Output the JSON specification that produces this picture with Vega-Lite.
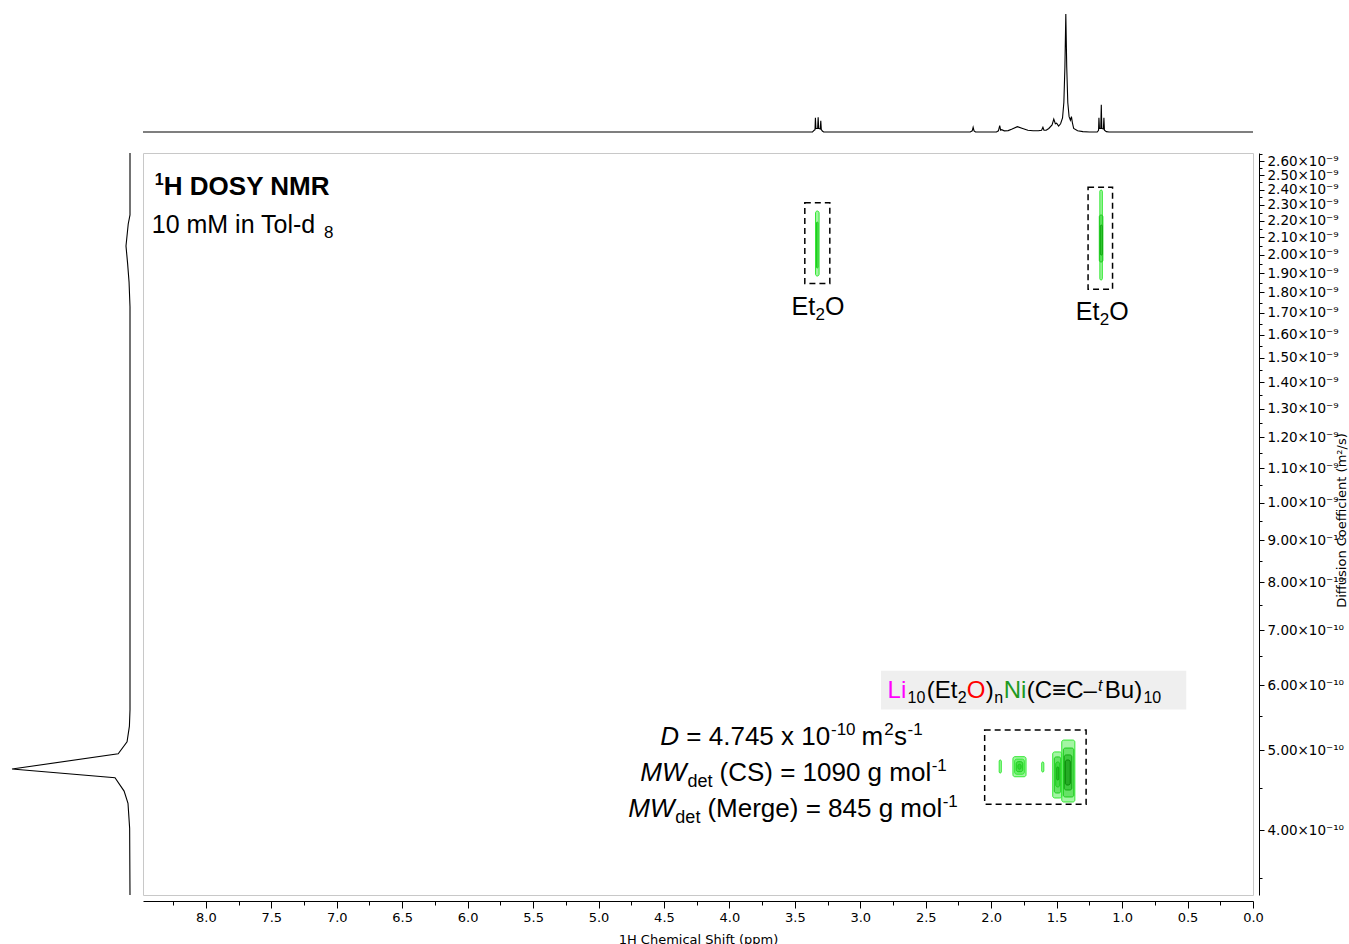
{
  "$schema": "https://vega.github.io/schema/vega-lite/v6.json",
  "padding": 0,
  "background": "white",
  "config": {
    "view": {"stroke": null},
    "axis": {"labelFont": "DejaVu Sans", "titleFont": "DejaVu Sans", "labelColor": "#000", "titleColor": "#000", "domainColor": "#000", "tickColor": "#000", "titleFontWeight": "normal", "grid": false},
    "text": {"font": "Liberation Sans, Arial, DejaVu Sans, sans-serif", "color": "#000"}
  },
  "columns": 2,
  "bounds": "flush",
  "spacing": {"row": 21, "column": 13},
  "concat": [
    {
      "width": 130, "height": 132,
      "data": {"values": [{"t": ""}]},
      "mark": {"type": "text"},
      "encoding": {"text": {"field": "t"}}
    },
    {
      "width": 1110, "height": 132,
      "data": {"values": [
        {"ppm": 8.48, "I": 0}, {"ppm": 3.365, "I": 0}, {"ppm": 3.352, "I": 1.5}, {"ppm": 3.346, "I": 2},
        {"ppm": 3.343, "I": 12}, {"ppm": 3.339, "I": 3}, {"ppm": 3.326, "I": 3}, {"ppm": 3.322, "I": 12.5},
        {"ppm": 3.318, "I": 3}, {"ppm": 3.306, "I": 2.5}, {"ppm": 3.302, "I": 9.5}, {"ppm": 3.298, "I": 2},
        {"ppm": 3.29, "I": 0.8}, {"ppm": 3.28, "I": 0}, {"ppm": 2.16, "I": 0}, {"ppm": 2.145, "I": 1},
        {"ppm": 2.138, "I": 4}, {"ppm": 2.131, "I": 1}, {"ppm": 2.12, "I": 0}, {"ppm": 1.96, "I": 0},
        {"ppm": 1.945, "I": 1}, {"ppm": 1.935, "I": 5.4}, {"ppm": 1.928, "I": 1.5}, {"ppm": 1.92, "I": 2},
        {"ppm": 1.9, "I": 1}, {"ppm": 1.87, "I": 1.2}, {"ppm": 1.84, "I": 2.5}, {"ppm": 1.8, "I": 4.5},
        {"ppm": 1.76, "I": 3}, {"ppm": 1.72, "I": 1.5}, {"ppm": 1.68, "I": 1}, {"ppm": 1.64, "I": 1},
        {"ppm": 1.615, "I": 1.5}, {"ppm": 1.605, "I": 4}, {"ppm": 1.597, "I": 1.5}, {"ppm": 1.58, "I": 1.5},
        {"ppm": 1.56, "I": 3}, {"ppm": 1.535, "I": 6}, {"ppm": 1.522, "I": 11}, {"ppm": 1.51, "I": 7},
        {"ppm": 1.5, "I": 7.5}, {"ppm": 1.485, "I": 5}, {"ppm": 1.47, "I": 7}, {"ppm": 1.455, "I": 12},
        {"ppm": 1.445, "I": 25}, {"ppm": 1.437, "I": 55}, {"ppm": 1.43, "I": 100}, {"ppm": 1.423, "I": 55},
        {"ppm": 1.415, "I": 25}, {"ppm": 1.405, "I": 13}, {"ppm": 1.395, "I": 10}, {"ppm": 1.387, "I": 13},
        {"ppm": 1.38, "I": 8}, {"ppm": 1.37, "I": 3}, {"ppm": 1.34, "I": 1}, {"ppm": 1.3, "I": 0.3},
        {"ppm": 1.25, "I": 0}, {"ppm": 1.19, "I": 0}, {"ppm": 1.18, "I": 1.5}, {"ppm": 1.177, "I": 12},
        {"ppm": 1.173, "I": 3}, {"ppm": 1.163, "I": 3}, {"ppm": 1.159, "I": 23}, {"ppm": 1.155, "I": 3},
        {"ppm": 1.143, "I": 2.5}, {"ppm": 1.139, "I": 12}, {"ppm": 1.135, "I": 1.5}, {"ppm": 1.12, "I": 0.3},
        {"ppm": 1.1, "I": 0}, {"ppm": 0, "I": 0}
      ]},
      "mark": {"type": "line", "color": "#000", "strokeWidth": 1.1},
      "encoding": {
        "x": {"field": "ppm", "type": "quantitative", "scale": {"domain": [0, 8.48], "reverse": true, "nice": false, "zero": false}, "axis": null},
        "y": {"field": "I", "type": "quantitative", "scale": {"domain": [0, 111.86], "nice": false}, "axis": null}
      }
    },
    {
      "width": 130, "height": 742,
      "data": {"values": [
        {"D": 2.659e-9, "I": 0}, {"D": 2.236e-9, "I": 0}, {"D": 2.18e-9, "I": 1.5}, {"D": 2.05e-9, "I": 3.4},
        {"D": 1.95e-9, "I": 2}, {"D": 1.853e-9, "I": 0.8}, {"D": 1.729e-9, "I": 0}, {"D": 5.6e-10, "I": 0},
        {"D": 5.35e-10, "I": 0.5}, {"D": 5.12e-10, "I": 2.5}, {"D": 4.95e-10, "I": 10}, {"D": 4.745e-10, "I": 100},
        {"D": 4.63e-10, "I": 12.7}, {"D": 4.46e-10, "I": 5}, {"D": 4.31e-10, "I": 1.7}, {"D": 4.02e-10, "I": 0.3},
        {"D": 3.335e-10, "I": 0}
      ]},
      "mark": {"type": "line", "color": "#000", "strokeWidth": 1.1},
      "encoding": {
        "y": {"field": "D", "type": "quantitative", "scale": {"type": "log", "domain": [3.335e-10, 2.659e-9], "nice": false}, "axis": null},
        "x": {"field": "I", "type": "quantitative", "scale": {"domain": [0, 110.17], "reverse": true, "nice": false}, "axis": null},
        "order": {"field": "D", "type": "quantitative"}
      }
    },
    {
      "width": 1110, "height": 742,
      "view": {"stroke": "#c8c8c8"},
      "resolve": {"scale": {"color": "independent", "fill": "independent", "stroke": "independent"}},
      "encoding": {
        "x": {"field": "ppm", "type": "quantitative",
          "scale": {"domain": [0, 8.48], "reverse": true, "nice": false, "zero": false},
          "axis": {"title": "1H Chemical Shift (ppm)", "orient": "bottom", "offset": 6,
            "values": [0,0.25,0.5,0.75,1,1.25,1.5,1.75,2,2.25,2.5,2.75,3,3.25,3.5,3.75,4,4.25,4.5,4.75,5,5.25,5.5,5.75,6,6.25,6.5,6.75,7,7.25,7.5,7.75,8,8.25],
            "labelExpr": "round(datum.value*4) % 2 == 0 ? format(datum.value, '.1f') : ''",
            "tickSize": {"condition": {"test": "round(datum.value*4) % 2 == 0", "value": 7}, "value": 4},
            "labelFontSize": 13, "titleFontSize": 13, "labelPadding": 3, "titlePadding": 9,
            "labelOverlap": false, "labelFlush": false}},
        "y": {"field": "D", "type": "quantitative",
          "scale": {"type": "log", "domain": [3.335e-10, 2.659e-9], "nice": false},
          "axis": {"title": "Diffusion Coefficient (m²/s)", "orient": "right", "offset": 6,
            "values": [3.5e-10,4e-10,4.5e-10,5e-10,5.5e-10,6e-10,6.5e-10,7e-10,7.5e-10,8e-10,8.5e-10,9e-10,9.5e-10,1e-9,1.05e-9,1.1e-9,1.15e-9,1.2e-9,1.25e-9,1.3e-9,1.35e-9,1.4e-9,1.45e-9,1.5e-9,1.55e-9,1.6e-9,1.65e-9,1.7e-9,1.75e-9,1.8e-9,1.85e-9,1.9e-9,1.95e-9,2e-9,2.05e-9,2.1e-9,2.15e-9,2.2e-9,2.25e-9,2.3e-9,2.35e-9,2.4e-9,2.45e-9,2.5e-9,2.55e-9,2.6e-9,2.65e-9],
            "labelExpr": "round(datum.value*1e11) % 10 != 0 ? '' : (datum.value > 9.95e-10 ? format(datum.value*1e9, '.2f') + '×10⁻⁹' : format(datum.value*1e10, '.2f') + '×10⁻¹⁰')",
            "tickSize": {"condition": {"test": "round(datum.value*1e11) % 10 == 0", "value": 5}, "value": 3},
            "labelFontSize": 13.5, "titleFontSize": 13, "labelPadding": 3,
            "labelOverlap": false, "labelFlush": false,
            "titleAngle": 270, "titleX": 82, "titleY": 367, "titleAlign": "center", "titleBaseline": "middle"}}
      },
      "layer": [
        {
          "data": {"values": [{"ppm": 2.842, "ppm2": 0.51, "D": 6.245e-10, "D2": 5.603e-10}]},
          "mark": {"type": "rect", "fill": "#efefef"},
          "encoding": {"x2": {"field": "ppm2"}, "y2": {"field": "D2"}}
        },
        {
          "data": {"values": [
            {"ppm": 3.424, "ppm2": 3.233, "D": 2.313e-9, "D2": 1.846e-9},
            {"ppm": 1.26, "ppm2": 1.073, "D": 2.416e-9, "D2": 1.816e-9},
            {"ppm": 2.05, "ppm2": 1.275, "D": 5.29e-10, "D2": 4.3e-10}
          ]},
          "mark": {"type": "rect", "filled": false, "stroke": "#000", "strokeWidth": 1.5, "strokeDash": [6, 4]},
          "encoding": {"x2": {"field": "ppm2"}, "y2": {"field": "D2"}}
        },
        {
          "data": {"values": [
            {"ppm": 3.342, "ppm2": 3.315, "D": 2.2605e-9, "D2": 1.8846e-9, "lvl": 1},
            {"ppm": 3.335, "ppm2": 3.323, "D": 2.1917e-9, "D2": 1.9273e-9, "lvl": 2},
            {"ppm": 1.17, "ppm2": 1.151, "D": 2.3974e-9, "D2": 1.8637e-9, "lvl": 1},
            {"ppm": 1.174, "ppm2": 1.147, "D": 2.2354e-9, "D2": 1.9599e-9, "lvl": 2},
            {"ppm": 1.166, "ppm2": 1.151, "D": 2.1732e-9, "D2": 1.9986e-9, "lvl": 3},
            {"ppm": 1.939, "ppm2": 1.923, "D": 4.8658e-10, "D2": 4.6915e-10, "lvl": 1},
            {"ppm": 1.834, "ppm2": 1.734, "D": 4.911e-10, "D2": 4.643e-10, "lvl": 1},
            {"ppm": 1.821, "ppm2": 1.747, "D": 4.877e-10, "D2": 4.676e-10, "lvl": 1},
            {"ppm": 1.809, "ppm2": 1.759, "D": 4.843e-10, "D2": 4.709e-10, "lvl": 2},
            {"ppm": 1.796, "ppm2": 1.772, "D": 4.809e-10, "D2": 4.742e-10, "lvl": 2},
            {"ppm": 1.614, "ppm2": 1.598, "D": 4.8387e-10, "D2": 4.7045e-10, "lvl": 1},
            {"ppm": 1.53, "ppm2": 1.461, "D": 4.9768e-10, "D2": 4.375e-10, "lvl": 1},
            {"ppm": 1.518, "ppm2": 1.468, "D": 4.9076e-10, "D2": 4.4366e-10, "lvl": 2},
            {"ppm": 1.507, "ppm2": 1.476, "D": 4.8387e-10, "D2": 4.5117e-10, "lvl": 2},
            {"ppm": 1.499, "ppm2": 1.484, "D": 4.7716e-10, "D2": 4.6005e-10, "lvl": 3},
            {"ppm": 1.461, "ppm2": 1.361, "D": 5.1447e-10, "D2": 4.3263e-10, "lvl": 1},
            {"ppm": 1.449, "ppm2": 1.369, "D": 5.0309e-10, "D2": 4.3873e-10, "lvl": 2},
            {"ppm": 1.442, "ppm2": 1.384, "D": 4.9352e-10, "D2": 4.4739e-10, "lvl": 3},
            {"ppm": 1.434, "ppm2": 1.396, "D": 4.8658e-10, "D2": 4.5368e-10, "lvl": 4}
          ]},
          "mark": {"type": "rect", "strokeWidth": 1, "cornerRadius": 2, "fillOpacity": 0.45},
          "encoding": {
            "x2": {"field": "ppm2"}, "y2": {"field": "D2"},
            "fill": {"field": "lvl", "type": "ordinal", "scale": {"domain": [1, 2, 3, 4], "range": ["#33e833", "#1ccc1c", "#10aa10", "#088808"]}, "legend": null},
            "stroke": {"field": "lvl", "type": "ordinal", "scale": {"domain": [1, 2, 3, 4], "range": ["#33e833", "#1ccc1c", "#10aa10", "#088808"]}, "legend": null}
          }
        },
        {
          "data": {"values": [{"t": "H DOSY NMR", "ppm": 8.321, "D": 2.364e-9}]},
          "mark": {"type": "text", "align": "left", "baseline": "alphabetic", "fontSize": 26, "fontWeight": "bold"},
          "encoding": {"text": {"field": "t"}}
        },
        {
          "data": {"values": [{"t": "1", "ppm": 8.39, "D": 2.364e-9}]},
          "mark": {"type": "text", "align": "left", "baseline": "alphabetic", "fontSize": 16, "fontWeight": "bold", "dy": -10},
          "encoding": {"text": {"field": "t"}}
        },
        {
          "data": {"values": [
            {"t": "10 mM in Tol-d", "ppm": 8.413, "D": 2.1255e-9},
            {"t": "Et", "ppm": 3.526, "D": 1.6897e-9},
            {"t": "O", "ppm": 3.27, "D": 1.6897e-9},
            {"t": "Et", "ppm": 1.354, "D": 1.6662e-9},
            {"t": "O", "ppm": 1.098, "D": 1.6662e-9}
          ]},
          "mark": {"type": "text", "align": "left", "baseline": "alphabetic", "fontSize": 25},
          "encoding": {"text": {"field": "t"}}
        },
        {
          "data": {"values": [
            {"t": "Li", "ppm": 2.792, "D": 5.787e-10, "el": "Li"},
            {"t": "(Et", "ppm": 2.493, "D": 5.787e-10, "el": "x"},
            {"t": "O", "ppm": 2.187, "D": 5.787e-10, "el": "O"},
            {"t": ")", "ppm": 2.042, "D": 5.787e-10, "el": "x"},
            {"t": "Ni", "ppm": 1.904, "D": 5.787e-10, "el": "Ni"},
            {"t": "(C≡C–", "ppm": 1.728, "D": 5.787e-10, "el": "x"},
            {"t": "Bu)", "ppm": 1.132, "D": 5.787e-10, "el": "x"}
          ]},
          "mark": {"type": "text", "align": "left", "baseline": "alphabetic", "fontSize": 24},
          "encoding": {
            "text": {"field": "t"},
            "color": {"field": "el", "type": "nominal", "scale": {"domain": ["Li", "O", "Ni", "x"], "range": ["#ff00ff", "#ff0000", "#1f9a1f", "#000000"]}, "legend": null}
          }
        },
        {
          "data": {"values": [
            {"t": "8", "ppm": 7.098, "D": 2.1255e-9},
            {"t": "2", "ppm": 3.342, "D": 1.6897e-9},
            {"t": "2", "ppm": 1.17, "D": 1.6662e-9}
          ]},
          "mark": {"type": "text", "align": "left", "baseline": "alphabetic", "fontSize": 17, "dy": 5},
          "encoding": {"text": {"field": "t"}}
        },
        {
          "data": {"values": [
            {"t": "10", "ppm": 2.639, "D": 5.787e-10},
            {"t": "2", "ppm": 2.256, "D": 5.787e-10},
            {"t": "n", "ppm": 1.977, "D": 5.787e-10},
            {"t": "10", "ppm": 0.837, "D": 5.787e-10}
          ]},
          "mark": {"type": "text", "align": "left", "baseline": "alphabetic", "fontSize": 16, "dy": 5},
          "encoding": {"text": {"field": "t"}}
        },
        {
          "data": {"values": [{"t": "t", "ppm": 1.185, "D": 5.787e-10}]},
          "mark": {"type": "text", "align": "left", "baseline": "alphabetic", "fontSize": 16, "fontStyle": "italic", "dy": -7},
          "encoding": {"text": {"field": "t"}}
        },
        {
          "data": {"values": [
            {"t": "D", "ppm": 4.528, "D": 5.074e-10},
            {"t": "MW", "ppm": 4.681, "D": 4.5875e-10},
            {"t": "MW", "ppm": 4.772, "D": 4.148e-10}
          ]},
          "mark": {"type": "text", "align": "left", "baseline": "alphabetic", "fontSize": 26, "fontStyle": "italic"},
          "encoding": {"text": {"field": "t"}}
        },
        {
          "data": {"values": [
            {"t": "det", "ppm": 4.321, "D": 4.5875e-10},
            {"t": "det", "ppm": 4.413, "D": 4.148e-10}
          ]},
          "mark": {"type": "text", "align": "left", "baseline": "alphabetic", "fontSize": 18, "dy": 6},
          "encoding": {"text": {"field": "t"}}
        },
        {
          "data": {"values": [
            {"t": "= 4.745 x 10", "ppm": 4.329, "D": 5.074e-10},
            {"t": "m", "ppm": 2.99, "D": 5.074e-10},
            {"t": "s", "ppm": 2.742, "D": 5.074e-10},
            {"t": "(CS) = 1090 g mol", "ppm": 4.076, "D": 4.5875e-10},
            {"t": "(Merge) = 845 g mol", "ppm": 4.168, "D": 4.148e-10}
          ]},
          "mark": {"type": "text", "align": "left", "baseline": "alphabetic", "fontSize": 26},
          "encoding": {"text": {"field": "t"}}
        },
        {
          "data": {"values": [
            {"t": "-10", "ppm": 3.224, "D": 5.074e-10},
            {"t": "2", "ppm": 2.818, "D": 5.074e-10},
            {"t": "-1", "ppm": 2.639, "D": 5.074e-10},
            {"t": "-1", "ppm": 2.455, "D": 4.5875e-10},
            {"t": "-1", "ppm": 2.371, "D": 4.148e-10}
          ]},
          "mark": {"type": "text", "align": "left", "baseline": "alphabetic", "fontSize": 17, "dy": -10},
          "encoding": {"text": {"field": "t"}}
        }
      ]
    }
  ]
}
